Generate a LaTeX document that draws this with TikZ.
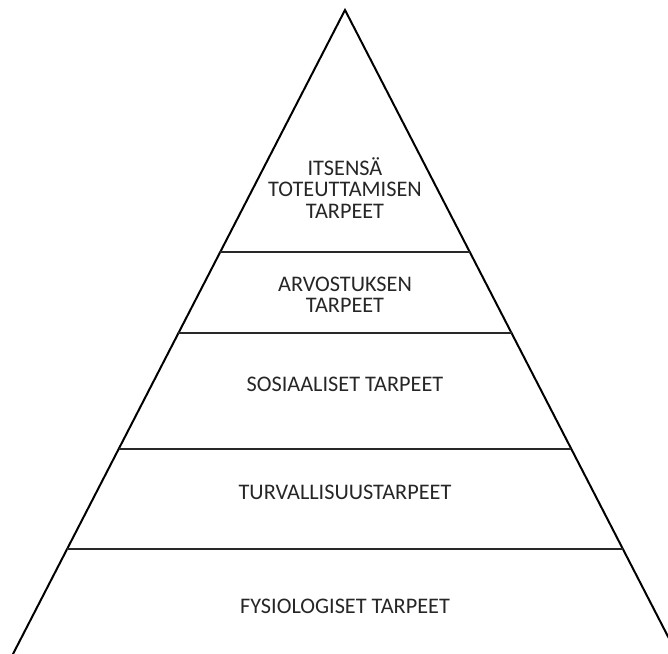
\documentclass[tikz,border=0pt]{standalone}
\usepackage{fontspec}
\setmainfont{Carlito}
\usetikzlibrary{calc}
\definecolor{LevelLine}{RGB}{40,40,40}

\begin{document}
\begin{tikzpicture}[x=0.03cm,y=-0.03cm,
    level/.style={font=\fontsize{19}{18}\selectfont,align=center,text=black!85},
    divider/.style={LevelLine,line width=1.3pt}]
      \path[use as bounding box] (0,0) rectangle (668,654);
      \clip (0,0) rectangle (668,654);
      % corners of the pyramid
      \coordinate (top) at (345,10);
      \coordinate (baseL) at (9.9,660);
      \coordinate (baseR) at (680.1,660);
      \draw[line width=1.7pt,line join=miter] (baseL)--(top)--(baseR);
      % level dividers
      \foreach \yy/\nm in {252/a,333/b,449/c,549/d}{
        \coordinate (l\nm) at ($(top)!{(\yy-10)/650}!(baseL)$);
        \coordinate (r\nm) at ($(top)!{(\yy-10)/650}!(baseR)$);
        \draw[divider] (l\nm)--(r\nm);
      }
      % level labels
      \node[level] (self) at (345,188) {ITSENSÄ\\TOTEUTTAMISEN\\TARPEET};
      \node[level] (esteem) at (345,295) {ARVOSTUKSEN\\TARPEET};
      \node[level] (social) at (345,384) {SOSIAALISET TARPEET};
      \node[level] (safety) at (345,492) {TURVALLISUUSTARPEET};
      \node[level] (body) at (345,606) {FYSIOLOGISET TARPEET};
    \end{tikzpicture}
\end{document}
